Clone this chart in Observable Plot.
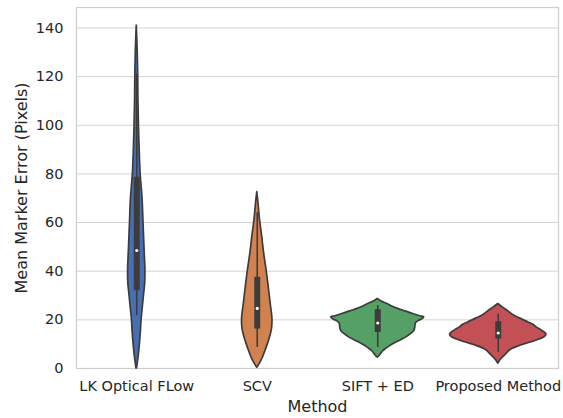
<!DOCTYPE html>
<html>
<head>
<meta charset="utf-8">
<script src="https://cdn.jsdelivr.net/npm/d3@7"></script>
<script src="https://cdn.jsdelivr.net/npm/@observablehq/plot@0.6"></script>
<style>
  html, body { margin: 0; padding: 0; background: #ffffff; }
  #chart svg { display: block; }
</style>
</head>
<body>
<div id="chart"></div>
<script>
// Categories and colours
const categories = ["LK Optical FLow", "SCV", "SIFT + ED", "Proposed Method"];
const colors = ["#486eb4", "#d2824f", "#55a064", "#c35055"];

// Violin density profiles (value, relative half-width)
const lkValues  = [0, 5, 10, 15, 20, 25, 30, 35, 40, 50, 60, 70, 75, 80, 90, 100, 110, 120, 130, 141];
const lkWidths  = [0.005, 0.04, 0.065, 0.085, 0.10, 0.125, 0.15, 0.175, 0.18, 0.16, 0.14, 0.12, 0.10, 0.08, 0.06, 0.045, 0.035, 0.03, 0.02, 0];

const scvValues = [0.3, 1.5, 3.9, 8, 12.1, 16.2, 20.3, 27.2, 34, 40.9, 47.7, 54.6, 61.5, 68, 72.5];
const scvWidths = [0, 0.04, 0.105, 0.185, 0.255, 0.305, 0.315, 0.275, 0.235, 0.19, 0.14, 0.10, 0.055, 0.025, 0];

const siftValues = [4.5, 5, 6, 7, 8, 9, 10, 11, 12, 13, 14, 15, 16, 17, 18.5, 19.5, 20.3, 21, 21.5, 22.5, 23.5, 24.5, 25.5, 26.5, 27.5, 28.6];
const siftWidths = [0, 0.03, 0.07, 0.11, 0.17, 0.24, 0.32, 0.42, 0.52, 0.61, 0.68, 0.74, 0.77, 0.78, 0.79, 0.85, 0.93, 0.965, 0.88, 0.72, 0.57, 0.42, 0.30, 0.20, 0.08, 0];

const propValues = [2, 3, 4, 5, 6, 7, 8, 9, 10, 11, 12, 13, 14, 15, 16, 17, 18, 19, 20.5, 22, 23.5, 25, 26.5];
const propWidths = [0, 0.03, 0.07, 0.12, 0.17, 0.22, 0.29, 0.41, 0.56, 0.73, 0.87, 0.97, 1.0, 0.95, 0.87, 0.79, 0.73, 0.62, 0.46, 0.31, 0.21, 0.10, 0];

// Inner box statistics
const q1s      = [32, 16.2, 14.8, 12.1];
const medians  = [48.5, 24.7, 18.7, 14.6];
const q3s      = [78.6, 37.5, 24.2, 19.2];
const whiskLo  = [21.7, 8.7, 8.7, 6.6];
const whiskHi  = [121, 64, 25.8, 22.4];

const yTicks = [0, 20, 40, 60, 80, 100, 120, 140];

// Build tables
const profiles = [[lkValues, lkWidths], [scvValues, scvWidths], [siftValues, siftWidths], [propValues, propWidths]];
const violinRows = [];
profiles.forEach(([vals, ws], i) => {
  vals.forEach((v, j) => violinRows.push({cat: categories[i], i, value: v, w: ws[j]}));
});
const boxRows = categories.map((c, i) => ({cat: c, i, q1: q1s[i], med: medians[i], q3: q3s[i], lo: whiskLo[i], hi: whiskHi[i]}));
const centers = categories.map((c, i) => i + 0.5);
const half = 0.4;
const dark = "#3c3c3c";

const chart = Plot.plot({
  width: 563,
  height: 418,
  marginLeft: 76,
  marginRight: 5,
  marginTop: 7,
  marginBottom: 50,
  style: {fontFamily: "'DejaVu Sans', sans-serif", fontSize: "14.5px", color: "#262626", background: "#ffffff"},
  x: {domain: [0, 4], ticks: centers, tickFormat: d => categories[Math.round(d - 0.5)], tickSize: 0, tickPadding: 12, label: null},
  y: {domain: [0, 148.4], ticks: yTicks, tickSize: 0, tickPadding: 13, label: null},
  color: {domain: categories, range: colors},
  marks: [
    Plot.ruleY(yTicks, {stroke: "#d4d4d4", strokeWidth: 1}),
    Plot.frame({stroke: "#cfcfcf", strokeWidth: 1.25}),
    Plot.areaX(violinRows, {
      y: "value",
      x1: d => d.i + 0.5 - d.w * half,
      x2: d => d.i + 0.5 + d.w * half,
      z: "cat",
      fill: "cat",
      stroke: dark,
      strokeWidth: 1.7,
      curve: "catmull-rom"
    }),
    Plot.ruleX(boxRows, {x: d => d.i + 0.5, y1: "lo", y2: "hi", stroke: dark, strokeWidth: 1.6}),
    Plot.ruleX(boxRows, {x: d => d.i + 0.5, y1: "q1", y2: "q3", stroke: dark, strokeWidth: 6}),
    Plot.dot(boxRows, {x: d => d.i + 0.5, y: "med", r: 1.6, fill: "white", stroke: null}),
    Plot.text(["Method"], {frameAnchor: "bottom", dy: 43, fontSize: 16, fill: "#262626", textAnchor: "middle"}),
    Plot.text(["Mean Marker Error (Pixels)"], {frameAnchor: "left", dx: -55, rotate: -90, fontSize: 16, fill: "#262626", textAnchor: "middle"})
  ]
});
document.getElementById("chart").appendChild(chart);
</script>
</body>
</html>
